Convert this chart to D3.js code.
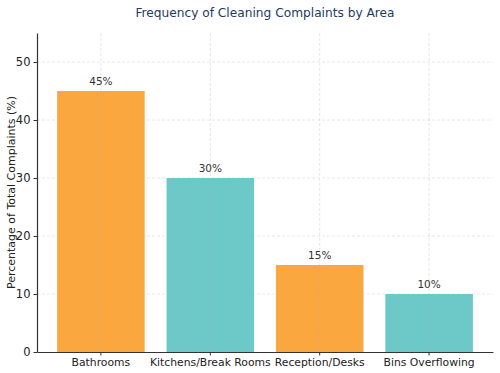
<!DOCTYPE html>
<html>
<head>
<meta charset="utf-8">
<script src="https://cdn.jsdelivr.net/npm/d3@7"></script>
<style>
    body { margin: 0; background: #fff; }
    svg { font-family: "DejaVu Sans", sans-serif; }
</style>
</head>
<body>
<div class="chart"></div>
<script>
// data
const areas = ['Bathrooms', 'Kitchens/Break Rooms', 'Reception/Desks', 'Bins Overflowing'];
const percentages = [45, 30, 15, 10];
const barColors = ['#f9a73e', '#6cc9c8', '#f9a73e', '#6cc9c8'];
const yTicks = [0, 10, 20, 30, 40, 50];

const width = 500, height = 373;
const plotLeft = 37, plotRight = 493, plotTop = 33, plotBottom = 352;

let svg = d3.select('.chart')
    .append('svg')
    .attr('width', width)
    .attr('height', height);

let xScale = d3.scaleBand()
    .domain(areas)
    .range([plotLeft, plotRight])
    .paddingInner(0.2)
    .paddingOuter(0.184);

let yScale = d3.scaleLinear()
    .domain([0, 55])
    .range([plotBottom, plotTop]);

// #region grid
let grid = svg.append('g').attr('class', 'grid');
grid.selectAll('.hgrid')
    .data(yTicks.slice(1))
    .enter()
    .append('line')
    .attr('x1', plotLeft).attr('x2', plotRight)
    .attr('y1', d => yScale(d)).attr('y2', d => yScale(d))
    .attr('stroke', '#e2e2e2')
    .attr('stroke-width', 0.8)
    .attr('stroke-dasharray', '3,2');
// #endregion

// #region bars
svg.append('g').attr('class', 'bars')
    .selectAll('rect')
    .data(areas)
    .enter()
    .append('rect')
    .attr('x', d => xScale(d))
    .attr('y', (d, i) => yScale(percentages[i]))
    .attr('width', xScale.bandwidth())
    .attr('height', (d, i) => plotBottom - yScale(percentages[i]))
    .attr('fill', (d, i) => barColors[i]);

// vertical grid lines show through the bars
svg.append('g').attr('class', 'vgrid')
    .selectAll('line')
    .data(areas)
    .enter()
    .append('line')
    .attr('x1', d => xScale(d) + xScale.bandwidth() / 2)
    .attr('x2', d => xScale(d) + xScale.bandwidth() / 2)
    .attr('y1', plotTop).attr('y2', plotBottom)
    .attr('stroke', '#b0b0b0')
    .attr('stroke-opacity', 0.4)
    .attr('stroke-width', 0.8)
    .attr('stroke-dasharray', '3,2');

svg.append('g').attr('class', 'labels')
    .selectAll('text')
    .data(areas)
    .enter()
    .append('text')
    .attr('x', d => xScale(d) + xScale.bandwidth() / 2)
    .attr('y', (d, i) => yScale(percentages[i]) - 6)
    .attr('text-anchor', 'middle')
    .attr('font-size', 10.5)
    .attr('fill', '#333')
    .text((d, i) => percentages[i] + '%');
// #endregion

// #region axes
let gX = svg.append('g')
    .attr('transform', 'translate(0,' + plotBottom + ')')
    .call(d3.axisBottom(xScale).tickSize(3.5).tickSizeOuter(0));
gX.select('.domain').attr('stroke', '#333').attr('stroke-width', 1.2);
gX.selectAll('.tick line').attr('stroke', '#333');
gX.selectAll('.tick text')
    .attr('font-size', 10.8)
    .attr('fill', '#222')
    .attr('font-family', '"DejaVu Sans", sans-serif')
    .attr('y', 6)
    .attr('dy', '0.71em');

let gY = svg.append('g')
    .attr('transform', 'translate(' + plotLeft + ',0)')
    .call(d3.axisLeft(yScale).tickValues(yTicks).tickSize(3.5).tickSizeOuter(0));
gY.select('.domain').attr('stroke', '#333').attr('stroke-width', 1.2);
gY.selectAll('.tick line').attr('stroke', '#333');
gY.selectAll('.tick text')
    .attr('font-size', 11.5)
    .attr('fill', '#222')
    .attr('font-family', '"DejaVu Sans", sans-serif');
// #endregion

// #region titles
svg.append('text')
    .attr('x', (plotLeft + plotRight) / 2)
    .attr('y', 17)
    .attr('text-anchor', 'middle')
    .attr('font-size', 12.2)
    .attr('fill', '#1f3a60')
    .text('Frequency of Cleaning Complaints by Area');

svg.append('text')
    .attr('transform', 'translate(15,' + ((plotTop + plotBottom) / 2) + ') rotate(-90)')
    .attr('text-anchor', 'middle')
    .attr('font-size', 11)
    .attr('fill', '#222')
    .text('Percentage of Total Complaints (%)');
// #endregion
</script>
</body>
</html>
